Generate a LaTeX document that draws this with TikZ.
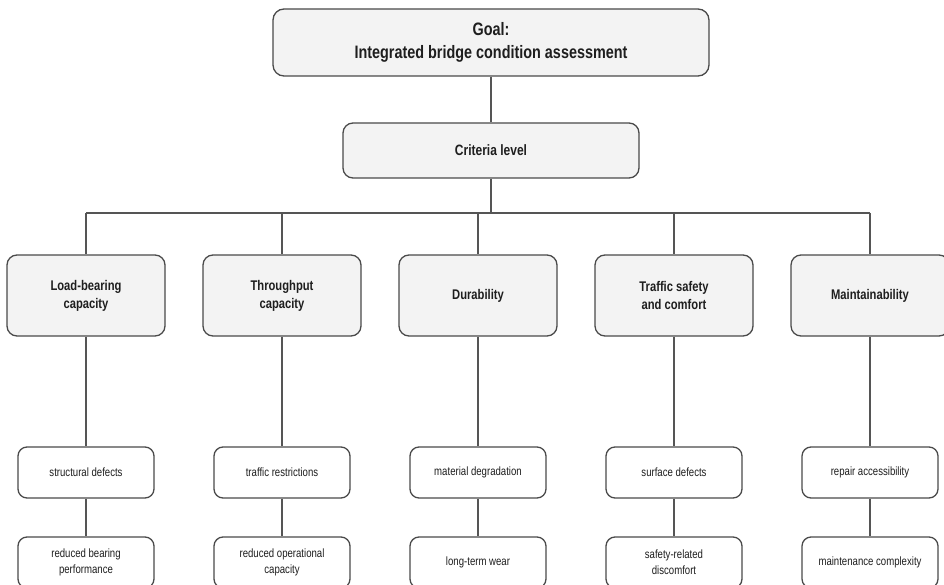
\documentclass[tikz,border=0pt]{standalone}
\usepackage{fontspec}
\setmainfont{Liberation Sans}[FakeStretch=0.8]
\definecolor{bordercol}{HTML}{4A4A4A}
\definecolor{linecol}{HTML}{555555}
\definecolor{fillcol}{HTML}{F3F3F3}
\definecolor{textcol}{HTML}{1E1E1E}
\begin{document}
\begin{tikzpicture}[x=1pt,y=-1pt,
  basebox/.style={draw=bordercol, line width=1.3pt, fill=fillcol, align=center,
    inner sep=0pt, text=textcol},
  goalbox/.style={basebox, rounded corners=11pt, minimum width=436pt, minimum height=67pt,
    font=\fontsize{18}{23.5}\selectfont\bfseries},
  critbox/.style={basebox, rounded corners=10pt, minimum width=296pt, minimum height=55pt,
    font=\fontsize{15}{18}\selectfont\bfseries},
  catbox/.style={basebox, rounded corners=10pt, minimum width=158pt, minimum height=81pt,
    font=\fontsize{14}{18}\selectfont\bfseries},
  subbox/.style={basebox, fill=white, rounded corners=9pt, minimum width=136pt, minimum height=51pt,
    font=\fontsize{12}{16}\selectfont},
  conn/.style={draw=linecol, line width=1.2pt}
]
\useasboundingbox (0,0) rectangle (944,585);

\node[goalbox] (goal) at (491,42.5) {Goal:\\Integrated bridge condition assessment};
\node[critbox] (crit) at (491,150.5) {Criteria level};

\coordinate (bm) at (491,213);
\foreach \i/\x in {1/86,2/282,3/478,4/674,5/870}{
  \coordinate (b\i) at (\x,213);
}

\node[catbox] (c1) at (86,295.5) {Load-bearing\\capacity};
\node[catbox] (c2) at (282,295.5) {Throughput\\capacity};
\node[catbox] (c3) at (478,295.5) {Durability};
\node[catbox] (c4) at (674,295.5) {Traffic safety\\and comfort};
\node[catbox] (c5) at (870,295.5) {Maintainability};

\node[subbox] (s1) at (86,472.5) {structural defects};
\node[subbox] (s2) at (282,472.5) {traffic restrictions};
\node[subbox] (s3) at (478,472.5) {material degradation};
\node[subbox] (s4) at (674,472.5) {surface defects};
\node[subbox] (s5) at (870,472.5) {repair accessibility};

\node[subbox] (t1) at (86,562.5) {reduced bearing\\performance};
\node[subbox] (t2) at (282,562.5) {reduced operational\\capacity};
\node[subbox] (t3) at (478,562.5) {long-term wear};
\node[subbox] (t4) at (674,562.5) {safety-related\\discomfort};
\node[subbox] (t5) at (870,562.5) {maintenance complexity};

\path[conn] (goal.south) -- (crit.north);
\path[conn] (crit.south) -- (bm);
\path[conn] (b1) -- (b5);
\foreach \i in {1,...,5}{
  \path[conn] (b\i) -- (c\i.north);
  \path[conn] (c\i.south) -- (s\i.north);
  \path[conn] (s\i.south) -- (t\i.north);
}
\end{tikzpicture}
\end{document}
